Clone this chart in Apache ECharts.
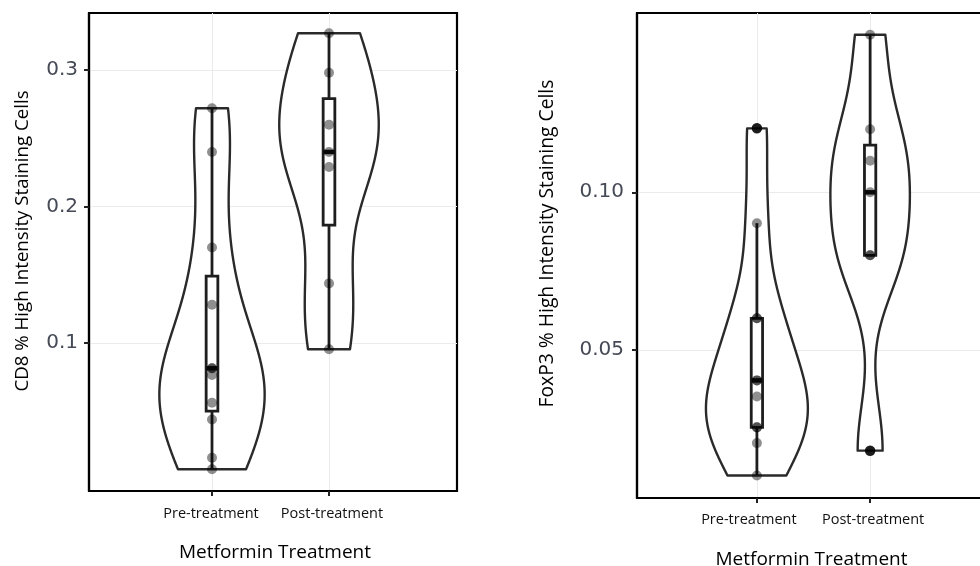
<!DOCTYPE html>
<html>
<head>
<meta charset="utf-8">
<script src="https://cdn.jsdelivr.net/npm/echarts@6/dist/echarts.min.js"></script>
<style>
html,body{margin:0;padding:0;background:#fff;}
#chart{width:980px;height:566px;}
</style>
</head>
<body>
<div id="chart"></div>
<script>
// ---------------- data ----------------
const categories = ['Pre-treatment', 'Post-treatment'];
const xTitle = 'Metformin Treatment';
const cd8Title = 'CD8 % High Intensity Staining Cells';
const foxp3Title = 'FoxP3 % High Intensity Staining Cells';

const cd8Pre = [0.272, 0.240, 0.170, 0.128, 0.0815, 0.0815, 0.0766, 0.0563, 0.044, 0.016, 0.0075];
const cd8Post = [0.327, 0.298, 0.260, 0.240, 0.229, 0.1437, 0.0954];
const foxp3Pre = [0.1203, 0.0902, 0.060, 0.060, 0.0403, 0.0403, 0.0352, 0.0254, 0.0254, 0.0204, 0.0101];
const foxp3Post = [0.150, 0.120, 0.110, 0.100, 0.080, 0.080, 0.018];

const cd8Ticks = [0.1, 0.2, 0.3];
const foxp3Ticks = [0.05, 0.10];
const catPositions = [1, 2];

// ---------------- statistics (derived from the points) ----------------
function quantile(sorted, p) {
  const h = (sorted.length - 1) * p;
  const lo = Math.floor(h), hi = Math.ceil(h);
  return sorted[lo] + (h - lo) * (sorted[hi] - sorted[lo]);
}
function sdev(a) {
  const m = a.reduce((s, v) => s + v, 0) / a.length;
  return Math.sqrt(a.reduce((s, v) => s + (v - m) * (v - m), 0) / (a.length - 1));
}
function nrd0(a) {
  const s = [...a].sort((x, y) => x - y);
  const iqr = quantile(s, 0.75) - quantile(s, 0.25);
  const lo = Math.min(sdev(a), iqr / 1.34);
  return 0.9 * lo * Math.pow(a.length, -0.2);
}
function kde(a) {
  const s = [...a].sort((x, y) => x - y);
  const bw = nrd0(a);
  const n = 512;
  const lo = s[0], hi = s[s.length - 1];
  const out = [];
  for (let i = 0; i < n; i++) {
    const y = lo + (hi - lo) * i / (n - 1);
    let d = 0;
    for (const v of a) { const z = (y - v) / bw; d += Math.exp(-0.5 * z * z); }
    d /= (a.length * bw * Math.sqrt(2 * Math.PI));
    out.push([y, d]);
  }
  return out;
}
function boxStats(a) {
  const s = [...a].sort((x, y) => x - y);
  const q1 = quantile(s, 0.25), med = quantile(s, 0.5), q3 = quantile(s, 0.75);
  const iqr = q3 - q1, lf = q1 - 1.5 * iqr, uf = q3 + 1.5 * iqr;
  const inside = s.filter(v => v >= lf && v <= uf);
  return { lo: inside[0], q1, med, q3, hi: inside[inside.length - 1], out: s.filter(v => v < lf || v > uf) };
}

const panelGroups = [[cd8Pre, cd8Post], [foxp3Pre, foxp3Post]];

// ---------------- styling ----------------
const VIOLIN_HALF = 0.45;
const BOX_HALF = 0.05;
const titleFont = 'Open Sans';
const series = [];

panelGroups.forEach((groups, p) => {
  const dens = groups.map(kde);
  const maxD = Math.max(...dens.map(d => Math.max(...d.map(e => e[1]))));
  const stats = groups.map(boxStats);

  series.push({
    type: 'custom', xAxisIndex: p, yAxisIndex: p, z: 2, silent: true,
    data: groups.map((g, i) => [catPositions[i], stats[i].med]),
    renderItem: function (params, api) {
      const i = params.dataIndex, pos = catPositions[i], d = dens[i];
      const pts = [];
      for (let k = 0; k < d.length; k++) pts.push(api.coord([pos - d[k][1] / maxD * VIOLIN_HALF, d[k][0]]));
      for (let k = d.length - 1; k >= 0; k--) pts.push(api.coord([pos + d[k][1] / maxD * VIOLIN_HALF, d[k][0]]));
      return { type: 'polygon', shape: { points: pts }, style: { fill: '#ffffff', stroke: '#2a2a2a', lineWidth: 2.4, lineJoin: 'round' } };
    }
  });

  series.push({
    type: 'custom', xAxisIndex: p, yAxisIndex: p, z: 3, silent: true,
    data: stats.map((s, i) => [catPositions[i], s.lo, s.q1, s.med, s.q3, s.hi]),
    encode: { x: 0, y: [1, 2, 3, 4, 5] },
    renderItem: function (params, api) {
      const pos = api.value(0);
      const lo = api.value(1), q1 = api.value(2), med = api.value(3), q3 = api.value(4), hi = api.value(5);
      const tl = api.coord([pos - BOX_HALF, q3]), br = api.coord([pos + BOX_HALF, q1]);
      const c = api.coord([pos, 0])[0];
      const yLo = api.coord([pos, lo])[1], yQ1 = api.coord([pos, q1])[1], yQ3 = api.coord([pos, q3])[1], yHi = api.coord([pos, hi])[1];
      const yMed = api.coord([pos, med])[1];
      const st = { stroke: '#1e1e1e', lineWidth: 2.8, fill: null };
      return {
        type: 'group', children: [
          { type: 'line', shape: { x1: c, y1: yQ3, x2: c, y2: yHi }, style: st },
          { type: 'line', shape: { x1: c, y1: yQ1, x2: c, y2: yLo }, style: st },
          { type: 'rect', shape: { x: tl[0], y: tl[1], width: br[0] - tl[0], height: br[1] - tl[1] }, style: { stroke: '#1e1e1e', lineWidth: 2.8, fill: '#ffffff' } },
          { type: 'line', shape: { x1: tl[0], y1: yMed, x2: br[0], y2: yMed }, style: { stroke: '#111111', lineWidth: 4.5 } }
        ]
      };
    }
  });

  const outliers = [];
  stats.forEach((s, i) => s.out.forEach(v => outliers.push([catPositions[i], v])));
  series.push({
    type: 'scatter', xAxisIndex: p, yAxisIndex: p, z: 4, silent: true,
    symbolSize: 10.5, itemStyle: { color: '#000000' }, data: outliers
  });

  const pts = [];
  groups.forEach((g, i) => g.forEach(v => pts.push([catPositions[i], v])));
  series.push({
    type: 'scatter', xAxisIndex: p, yAxisIndex: p, z: 5, silent: true,
    symbolSize: 10, itemStyle: { color: 'rgba(0,0,0,0.55)' }, data: pts
  });
});

function xAxisCfg(idx, min, max, gap, margin, preShift, postShift, titleShift) {
  return {
    type: 'value', gridIndex: idx, min: min, max: max,
    name: xTitle, nameLocation: 'middle', nameGap: gap,
    nameTextStyle: { fontFamily: titleFont, fontSize: 19, color: '#000',
      padding: titleShift < 0 ? [0, -2 * titleShift, 0, 0] : [0, 0, 0, 2 * titleShift] },
    axisLine: { show: true, onZero: false, lineStyle: { color: '#000', width: 2.2 } },
    axisTick: { show: true, customValues: catPositions, length: 5, lineStyle: { color: '#222', width: 2 } },
    axisLabel: {
      customValues: catPositions, margin: margin, fontFamily: titleFont, fontSize: 14.5, color: '#111',
      formatter: v => (Math.round(v) === 1 ? '{a|' : '{b|') + (categories[Math.round(v) - 1] || '') + '}',
      rich: {
        a: { fontFamily: titleFont, fontSize: 14.5, color: '#111', padding: preShift < 0 ? [0, -2 * preShift, 0, 0] : [0, 0, 0, 2 * preShift] },
        b: { fontFamily: titleFont, fontSize: 14.5, color: '#111', padding: postShift < 0 ? [0, -2 * postShift, 0, 0] : [0, 0, 0, 2 * postShift] }
      }
    },
    splitLine: { show: true, lineStyle: { color: '#ebebeb', width: 1 } }
  };
}
function yAxisCfg(idx, min, max, ticks, dec, name, gap, margin, shiftUp, nameSize) {
  return {
    type: 'value', gridIndex: idx, min: min, max: max,
    name: name, nameLocation: 'middle', nameGap: gap, nameRotate: 90,
    nameTextStyle: { fontFamily: titleFont, fontSize: nameSize, color: '#000', padding: [0, 0, 0, 2 * shiftUp] },
    axisLine: { show: true, onZero: false, lineStyle: { color: '#000', width: 2.2 } },
    axisTick: { show: true, customValues: ticks, length: 5, lineStyle: { color: '#222', width: 2 } },
    axisLabel: { customValues: ticks, margin: margin, fontFamily: 'DejaVu Sans', fontSize: 20, color: '#454a56',
      formatter: v => v.toFixed(dec) },
    splitLine: { show: true, lineStyle: { color: '#ebebeb', width: 1 } }
  };
}

const option = {
  animation: false,
  backgroundColor: '#ffffff',
  grid: [
    { left: 89, top: 13, width: 368, height: 478, show: true, borderColor: '#000', borderWidth: 2.2, backgroundColor: '#fff', containLabel: false, outerBoundsMode: 'none' },
    { left: 637, top: 13, width: 357, height: 485, show: true, borderColor: '#000', borderWidth: 2.2, backgroundColor: '#fff', containLabel: false, outerBoundsMode: 'none' }
  ],
  xAxis: [
    xAxisCfg(0, -0.0513, 3.094, 52, 15, -1, 3, 2),
    xAxisCfg(1, -0.059, 3.094, 52, 14, -8, 3, -4)
  ],
  yAxis: [
    yAxisCfg(0, -0.0084, 0.3418, cd8Ticks, 1, cd8Title, 57, 11, 11, 18.7),
    yAxisCfg(1, 0.00298, 0.1569, foxp3Ticks, 2, foxp3Title, 80, 13, 12, 19.3)
  ],
  series: series
};

const chart = echarts.init(document.getElementById('chart'), null, { renderer: 'canvas' });
chart.setOption(option);
</script>
</body>
</html>
